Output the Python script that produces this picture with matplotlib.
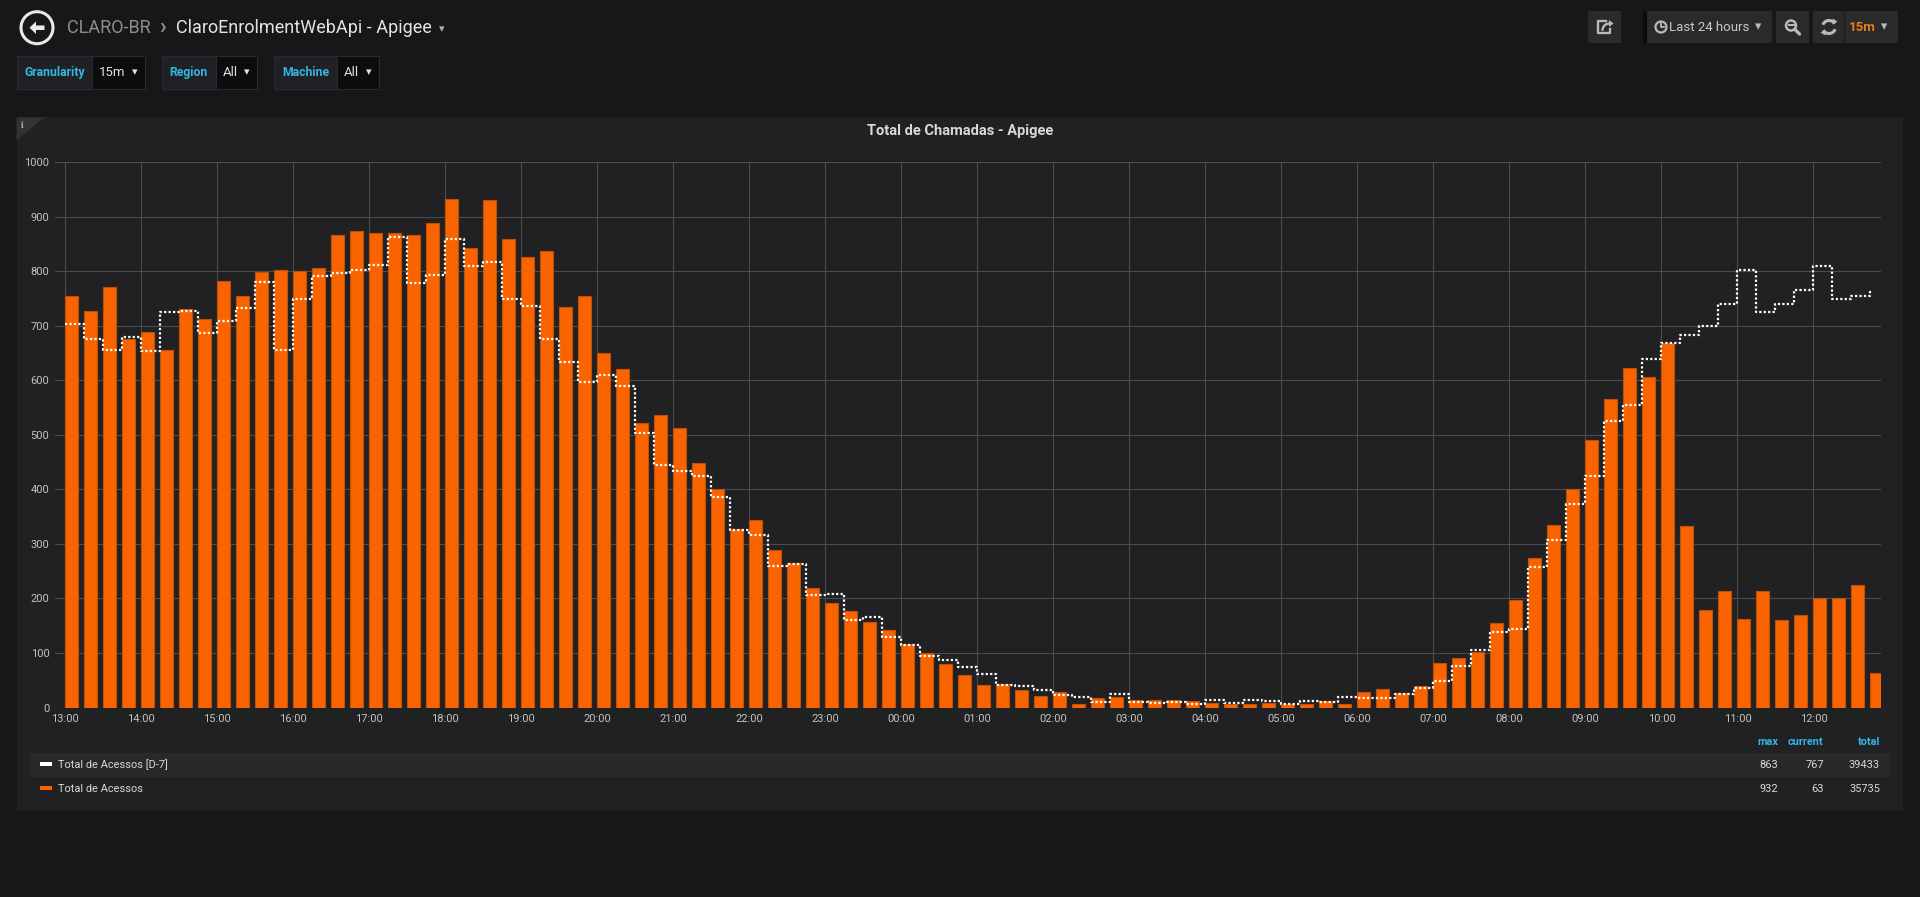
import matplotlib
matplotlib.use("Agg")
import matplotlib.pyplot as plt
from matplotlib.patches import Rectangle, Circle, Polygon, Arc
import numpy as np

# --- values (15 min buckets, 13:00 -> 12:45) ---
hour_labels = ['13:00', '14:00', '15:00', '16:00', '17:00', '18:00', '19:00', '20:00',
               '21:00', '22:00', '23:00', '00:00', '01:00', '02:00', '03:00', '04:00',
               '05:00', '06:00', '07:00', '08:00', '09:00', '10:00', '11:00', '12:00']

acessos = [754, 728, 772, 675, 688, 655, 731, 712, 782, 754, 799, 802,
           800, 806, 866, 874, 871, 871, 866, 889, 932, 843, 930, 859,
           827, 838, 735, 755, 650, 620, 522, 536, 513, 449, 400, 327,
           344, 288, 265, 220, 191, 177, 156, 143, 117, 100, 79, 60,
           41, 44, 33, 22, 29, 6, 18, 19, 14, 14, 14, 12,
           9, 7, 6, 9, 6, 7, 12, 7, 28, 34, 26, 40,
           81, 90, 101, 155, 198, 275, 334, 401, 490, 566, 623, 606,
           669, 332, 179, 213, 163, 213, 160, 170, 201, 200, 224, 63]

acessos_d7 = [704, 675, 656, 679, 654, 725, 727, 687, 708, 733, 781, 656,
              750, 791, 797, 803, 811, 863, 779, 794, 859, 810, 817, 750,
              736, 676, 634, 597, 610, 589, 504, 444, 433, 424, 386, 326,
              316, 260, 264, 207, 208, 161, 166, 129, 115, 95, 87, 74,
              62, 42, 39, 33, 23, 20, 11, 24, 10, 8, 11, 6,
              14, 9, 14, 12, 6, 12, 11, 19, 17, 17, 25, 36,
              49, 76, 106, 138, 144, 258, 307, 373, 425, 525, 555, 639,
              668, 684, 700, 740, 802, 725, 741, 765, 810, 750, 755, 767]

series_names = ['Total de Acessos [D-7]', 'Total de Acessos']
stat_headers = ['max', 'current', 'total']
variables = [('Granularity', '15m'), ('Region', 'All'), ('Machine', 'All')]

# colours (grafana dark)
PAGE = '#161719'
PANEL = '#212124'
ORANGE = '#f96400'
CYAN = '#33b5e5'
TXT = '#d8d9da'
ICON = '#b8b9ba'

plt.rcParams['font.family'] = ['Roboto', 'DejaVu Sans']

W, H = 1920, 897
fig = plt.figure(figsize=(W / 100, H / 100), dpi=100, facecolor=PAGE)

# background layer in pixel coordinates (y down)
bg = fig.add_axes([0, 0, 1, 1], zorder=-1)
bg.set_xlim(0, W)
bg.set_ylim(H, 0)
bg.axis('off')
bg.set_facecolor(PAGE)


def rect(x0, y0, x1, y1, color, **kw):
    bg.add_patch(Rectangle((x0, y0), x1 - x0, y1 - y0, facecolor=color, edgecolor=kw.pop('ec', 'none'), **kw))


# ---- header ----
bg.add_patch(Circle((37, 27.7), 16, fill=False, ec='#e8e8e8', lw=2.2))
bg.add_patch(Polygon([(29.5, 27.7), (36, 21.5), (36, 25.5), (44.5, 25.5), (44.5, 30), (36, 30), (36, 34)],
                     closed=True, fc='#e8e8e8', ec='none'))
bg.text(67, 28, 'CLARO-BR', fontsize=13, color='#8e8e8e', va='center', ha='left')
bg.text(159, 27, '›', fontsize=16, color='#8e8e8e', va='center', ha='left', fontweight='bold')
bg.text(175.5, 28, 'ClaroEnrolmentWebApi - Apigee', fontsize=13, color='#e3e3e3', va='center', ha='left')
bg.text(442, 29, '▾', fontsize=8, color='#b0b0b0', va='center', ha='center')

# right side buttons
BTN = '#2a2a2d'
rect(1588, 11, 1621, 43, BTN)
bg.plot([1606, 1598, 1598, 1610, 1610], [21.5, 21.5, 33, 33, 29.5], color=ICON, lw=1.7)
bg.plot([1602.5, 1603.5, 1606, 1609.5], [29.5, 26.5, 24.2, 23.5], color=ICON, lw=1.7)
bg.add_patch(Polygon([(1609, 20), (1613.5, 23.5), (1609, 27)], closed=True, fc=ICON, ec='none'))

rect(1643, 11, 1647, 43, '#0b0c0e')
rect(1647, 11, 1772, 43, BTN)
bg.add_patch(Circle((1661, 27), 5.5, fill=False, ec=ICON, lw=1.6))
bg.plot([1661, 1661, 1664], [23.5, 27, 27], color=ICON, lw=1.3)
bg.text(1669, 27.5, 'Last 24 hours', fontsize=9.5, color='#c8c9ca', va='center', ha='left')
bg.text(1758, 27, '▾', fontsize=9, color=ICON, va='center', ha='center')

rect(1776, 11, 1809, 43, BTN)
bg.add_patch(Circle((1791, 25.5), 5, fill=False, ec=ICON, lw=1.8))
bg.plot([1794.8, 1799.5], [29.3, 34], color=ICON, lw=2.4, solid_capstyle='round')
bg.plot([1788.5, 1793.5], [25.5, 25.5], color=ICON, lw=1.5)

rect(1813, 11, 1898, 43, BTN)
bg.plot([1844, 1844], [11, 43], color='#1e1e20', lw=1)
bg.add_patch(Arc((1829, 27), 13, 13, theta1=200, theta2=330, ec=ICON, lw=2.2))
bg.add_patch(Arc((1829, 27), 13, 13, theta1=20, theta2=150, ec=ICON, lw=2.2))
bg.add_patch(Polygon([(1832.5, 18.5), (1837.5, 21.5), (1833, 24.5)], closed=True, fc=ICON))
bg.add_patch(Polygon([(1825.5, 35.5), (1820.5, 32.5), (1825, 29.5)], closed=True, fc=ICON))
bg.text(1849, 27.5, '15m', fontsize=9.5, color='#eb7b18', va='center', ha='left', fontweight='bold')
bg.text(1884, 27, '▾', fontsize=9, color=ICON, va='center', ha='center')

# ---- template variables ----
var_boxes = [(16.5, 92.4, 145), (161.6, 215.6, 257), (273.7, 337, 378.6)]
for (label, value), (x0, x1, x2) in zip(variables, var_boxes):
    rect(x0, 55.7, x1, 89.3, '#202124', ec='#2b2b2e', lw=0.8)
    rect(x1, 55.7, x2, 89.3, '#0b0c0e', ec='#2b2b2e', lw=0.8)
    bg.text((x0 + x1) / 2, 72.8, label, fontsize=8.8, color=CYAN, va='center', ha='center', fontweight='bold')
    bg.text(x1 + 7, 73, value, fontsize=9.5, color='#e3e3e3', va='center', ha='left')
    bg.text(x2 - 10, 72.5, '▾', fontsize=8, color='#e3e3e3', va='center', ha='center')

# ---- panel ----
rect(16.5, 117.5, 1903, 810.7, PANEL)
bg.add_patch(Polygon([(16.5, 117.5), (44.6, 117.5), (16.5, 140)], closed=True, fc='#333336', ec='none'))
bg.text(22, 125, 'i', fontsize=7, color='#b0b0b0', va='center', ha='center', family='Liberation Serif',
        fontweight='bold')
bg.text(960, 130.7, 'Total de Chamadas - Apigee', fontsize=10.5, color=TXT, va='center', ha='center',
        fontweight='bold')

# ---- chart ----
x = np.arange(len(acessos)) * 0.25   # hours after 13:00
ax = fig.add_axes([55 / W, 1 - 707.5 / H, (1880.7 - 55) / W, (707.5 - 162.3) / H], zorder=1)
ax.set_facecolor(PANEL)
ax.bar(x, acessos, width=0.162, align='edge', color=ORANGE, edgecolor='#c04f08', linewidth=0.8, zorder=2)
ax.plot(x, acessos_d7, drawstyle='steps-post', color='white', lw=1.6, ls=(0, (1, 1)), zorder=3)
ax.set_xlim(-0.135, 23.885)
ax.set_ylim(0, 1000)
ax.set_xticks(np.arange(len(hour_labels)))
ax.set_xticklabels(hour_labels)
ax.set_yticks(np.arange(0, 1001, 100))
ax.grid(color='#4a4b4e', lw=0.8, zorder=0)
ax.set_axisbelow(True)
for s in ax.spines.values():
    s.set_visible(False)
ax.tick_params(length=0, labelsize=8, colors='#c2c3c4')
ax.tick_params(axis='x', pad=5)
ax.tick_params(axis='y', pad=4)

# ---- legend table ----
rect(29.9, 752.7, 1890, 776.7, '#28282b')
stat_x = [1778, 1823.7, 1880]
for hx, h in zip(stat_x, stat_headers):
    bg.text(hx, 742, h, fontsize=7.8, color=CYAN, va='center', ha='right', fontweight='bold')

rows = [(series_names[0], acessos_d7, 'white', 764.5), (series_names[1], acessos, ORANGE, 788.5)]
for name, vals, col, yy in rows:
    rect(40, yy - 2, 51.5, yy + 2, col)
    bg.text(58.5, yy, name, fontsize=7.9, color=TXT, va='center', ha='left')
    stats = [max(vals), vals[-1], sum(vals)]
    for sx, v in zip(stat_x, stats):
        bg.text(sx, yy, str(v), fontsize=7.9, color=TXT, va='center', ha='right')

fig.savefig('out.png', dpi=100, facecolor=PAGE)
